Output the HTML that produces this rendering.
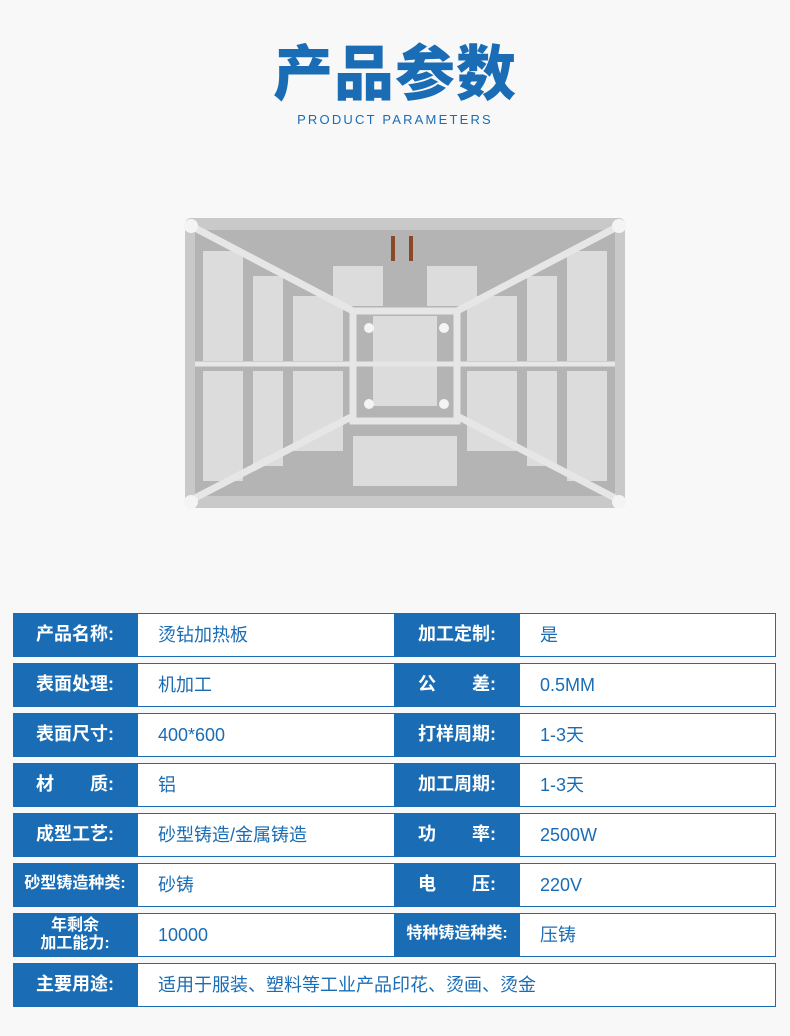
<!DOCTYPE html>
<html><head><meta charset="utf-8"><style>
body{margin:0;width:790px;height:1036px;background:#f8f8f8;font-family:"Liberation Sans","Noto Sans CJK SC",sans-serif;position:relative;overflow:hidden}
.t{position:absolute;left:0;width:790px;text-align:center;color:#1a6db5}
.row{position:absolute;left:13px;width:763px;height:44px}
.c{position:absolute;top:0;height:44px;box-sizing:border-box;line-height:42px;font-size:18px}
.l{background:#1a6db5;color:#fff;text-align:center;font-weight:bold}
.v{background:#fff;border:1.5px solid #1a6db5;color:#1a6db5;padding-left:20px}
</style></head><body>
<div class="t" style="top:30px;font-family:'Noto Sans CJK SC',sans-serif;font-size:60px;font-weight:900;letter-spacing:1px;line-height:80px">产品参数</div>
<div class="t" style="top:112px;font-size:13px;letter-spacing:2.2px">PRODUCT PARAMETERS</div>
<svg style="position:absolute;left:183px;top:216px" width="444" height="294" viewBox="0 0 444 294">
<rect x="2" y="2" width="440" height="290" rx="6" fill="#c9c9c9"/>
<rect x="12" y="14" width="420" height="266" fill="#b4b4b4"/>
<g fill="#dcdcdc">
<rect x="20" y="35" width="40" height="110"/><rect x="20" y="155" width="40" height="110"/>
<rect x="70" y="60" width="30" height="85"/><rect x="70" y="155" width="30" height="95"/>
<rect x="110" y="80" width="50" height="65"/><rect x="110" y="155" width="50" height="80"/>
<rect x="384" y="35" width="40" height="110"/><rect x="384" y="155" width="40" height="110"/>
<rect x="344" y="60" width="30" height="85"/><rect x="344" y="155" width="30" height="95"/>
<rect x="284" y="80" width="50" height="65"/><rect x="284" y="155" width="50" height="80"/>
<rect x="190" y="100" width="64" height="90"/>
<rect x="170" y="220" width="104" height="50"/>
<rect x="150" y="50" width="50" height="40"/><rect x="244" y="50" width="50" height="40"/>
</g>
<g stroke="#e6e6e6" stroke-width="7" fill="none">
<line x1="12" y1="12" x2="170" y2="95"/><line x1="432" y1="12" x2="274" y2="95"/>
<line x1="12" y1="282" x2="170" y2="200"/><line x1="432" y1="282" x2="274" y2="200"/>
<rect x="170" y="95" width="104" height="110"/>
<line x1="12" y1="148" x2="432" y2="148" stroke-width="5"/>
</g>
<path d="M210 20 v25 M228 20 v25" stroke="#8a4a2a" stroke-width="4"/>
<g fill="#f4f4f4"><circle cx="8" cy="10" r="7"/><circle cx="436" cy="10" r="7"/><circle cx="8" cy="286" r="7"/><circle cx="436" cy="286" r="7"/>
<circle cx="186" cy="112" r="5"/><circle cx="261" cy="112" r="5"/><circle cx="186" cy="188" r="5"/><circle cx="261" cy="188" r="5"/></g>
</svg>
<div class="row" style="top:613px"><div class="c l" style="left:0;width:124px">产品名称:</div><div class="c v" style="left:124px;width:258px">烫钻加热板</div><div class="c l" style="left:382px;width:124px">加工定制:</div><div class="c v" style="left:506px;width:257px">是</div></div>
<div class="row" style="top:663px"><div class="c l" style="left:0;width:124px">表面处理:</div><div class="c v" style="left:124px;width:258px">机加工</div><div class="c l" style="left:382px;width:124px">公　　差:</div><div class="c v" style="left:506px;width:257px">0.5MM</div></div>
<div class="row" style="top:713px"><div class="c l" style="left:0;width:124px">表面尺寸:</div><div class="c v" style="left:124px;width:258px">400*600</div><div class="c l" style="left:382px;width:124px">打样周期:</div><div class="c v" style="left:506px;width:257px">1-3天</div></div>
<div class="row" style="top:763px"><div class="c l" style="left:0;width:124px">材　　质:</div><div class="c v" style="left:124px;width:258px">铝</div><div class="c l" style="left:382px;width:124px">加工周期:</div><div class="c v" style="left:506px;width:257px">1-3天</div></div>
<div class="row" style="top:813px"><div class="c l" style="left:0;width:124px">成型工艺:</div><div class="c v" style="left:124px;width:258px">砂型铸造/金属铸造</div><div class="c l" style="left:382px;width:124px">功　　率:</div><div class="c v" style="left:506px;width:257px">2500W</div></div>
<div class="row" style="top:863px"><div class="c l" style="left:0;width:124px;font-size:16px">砂型铸造种类:</div><div class="c v" style="left:124px;width:258px">砂铸</div><div class="c l" style="left:382px;width:124px">电　　压:</div><div class="c v" style="left:506px;width:257px">220V</div></div>
<div class="row" style="top:913px"><div class="c l" style="left:0;width:124px;font-size:16px;line-height:18px;padding-top:4px">年剩余<br>加工能力:</div><div class="c v" style="left:124px;width:258px">10000</div><div class="c l" style="left:382px;width:124px;font-size:16px">特种铸造种类:</div><div class="c v" style="left:506px;width:257px">压铸</div></div>
<div class="row" style="top:963px"><div class="c l" style="left:0;width:124px">主要用途:</div><div class="c v" style="left:124px;width:639px">适用于服装、塑料等工业产品印花、烫画、烫金</div></div>
</body></html>
